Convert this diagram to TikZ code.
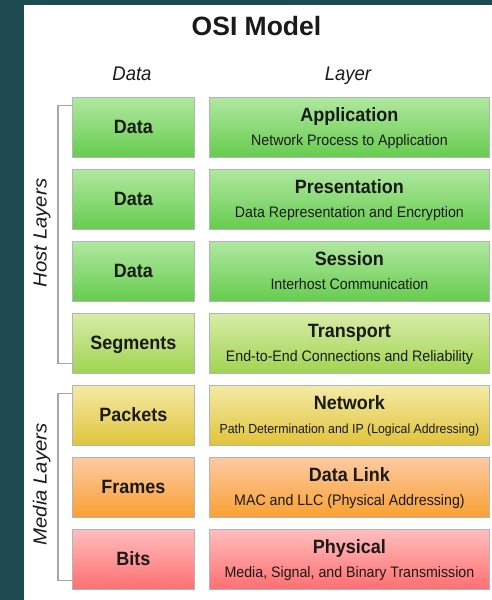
\documentclass[tikz,border=0pt]{standalone}
\usepackage{fontspec}
\usepackage{graphicx}
\setmainfont{Liberation Sans}
\definecolor{bgteal}{HTML}{1E4A52}
\definecolor{celledge}{HTML}{B4B4B4}
\definecolor{brk}{HTML}{A6A6A6}
\definecolor{txt}{HTML}{1A1A1A}
\definecolor{gT}{HTML}{B0E8A0}\definecolor{gB}{HTML}{66CC4E}
\definecolor{tT}{HTML}{D8ECA8}\definecolor{tB}{HTML}{A0D450}
\definecolor{nT}{HTML}{F4EAA6}\definecolor{nB}{HTML}{E0C43A}
\definecolor{oT}{HTML}{FCCAA2}\definecolor{oB}{HTML}{FAA032}
\definecolor{rT}{HTML}{FFBEBE}\definecolor{rB}{HTML}{FF6E70}
\newcommand{\tallt}[1]{\scalebox{1}[1.07]{#1}}
\newcommand{\longt}[1]{\scalebox{1.07}[1]{#1}}
\begin{document}
\begin{tikzpicture}[x=1pt,y=-1pt,
  cellbox/.style={draw=celledge, line width=0.9pt, inner sep=0pt, minimum height=60pt, anchor=north west, text=txt},
  datacell/.style={cellbox, minimum width=122pt, text height=13pt, text depth=0pt, font=\fontsize{18}{20}\selectfont\bfseries},
  layercell/.style={cellbox, minimum width=280pt},
  lname/.style={anchor=base, inner sep=0pt, text=txt, font=\fontsize{18}{20}\selectfont\bfseries},
  ldesc/.style={anchor=base, inner sep=0pt, text=txt, font=\fontsize{14.2}{16}\selectfont},
  head/.style={anchor=base, inner sep=0pt, text=txt, font=\fontsize{18.5}{20}\selectfont\itshape},
  side/.style={anchor=base, inner sep=0pt, rotate=90, text=txt, font=\fontsize{19}{22}\selectfont\itshape},
  bracket/.style={draw=brk, line width=1.1pt},
  grncell/.style={top color=gT, bottom color=gB},
  trncell/.style={top color=tT, bottom color=tB},
  netcell/.style={top color=nT, bottom color=nB},
  lnkcell/.style={top color=oT, bottom color=oB},
  phycell/.style={top color=rT, bottom color=rB}]
\useasboundingbox (0,0) rectangle (492,600);
\fill[bgteal] (0,0) rectangle (492,600);
\fill[white] (24,5) rectangle (492,600);

\node[anchor=base, inner sep=0pt, text=txt, font=\fontsize{26.5}{30}\selectfont\bfseries] (title) at (256.5,35) {OSI Model};
\node[head] (hdata) at (132,80) {\tallt{Data}};
\node[head] (hlayer) at (348,80) {\tallt{Layer}};

% data column
\node[datacell, grncell] (D1) at (72,97)  {\tallt{Data}};
\node[datacell, grncell] (D2) at (72,169) {\tallt{Data}};
\node[datacell, grncell] (D3) at (72,241) {\tallt{Data}};
\node[datacell, trncell] (D4) at (72,313) {\tallt{Segments}};
\node[datacell, netcell] (D5) at (72,385) {\tallt{Packets}};
\node[datacell, lnkcell] (D6) at (72,457) {\tallt{Frames}};
\node[datacell, phycell] (D7) at (72,529) {\tallt{Bits}};

% layer column
\node[layercell, grncell] (L1) at (209,97)  {};
\node[layercell, grncell] (L2) at (209,169) {};
\node[layercell, grncell] (L3) at (209,241) {};
\node[layercell, trncell] (L4) at (209,313) {};
\node[layercell, netcell] (L5) at (209,385) {};
\node[layercell, lnkcell] (L6) at (209,457) {};
\node[layercell, phycell] (L7) at (209,529) {};

\node[lname] (n1) at ([yshift=5.5pt]L1.center) {\tallt{Application}};
\node[ldesc] (s1) at ([yshift=-18pt]L1.center) {\tallt{Network Process to Application}};
\node[lname] (n2) at ([yshift=5.5pt]L2.center) {\tallt{Presentation}};
\node[ldesc] (s2) at ([yshift=-18pt]L2.center) {\tallt{Data Representation and Encryption}};
\node[lname] (n3) at ([yshift=5.5pt]L3.center) {\tallt{Session}};
\node[ldesc] (s3) at ([yshift=-18pt]L3.center) {\tallt{Interhost Communication}};
\node[lname] (n4) at ([yshift=5.5pt]L4.center) {\tallt{Transport}};
\node[ldesc] (s4) at ([yshift=-18pt]L4.center) {\tallt{End-to-End Connections and Reliability}};
\node[lname] (n5) at ([yshift=5.5pt]L5.center) {\tallt{Network}};
\node[ldesc, font=\fontsize{12.3}{14}\selectfont] (s5) at ([yshift=-18pt]L5.center) {\tallt{Path Determination and IP (Logical Addressing)}};
\node[lname] (n6) at ([yshift=5.5pt]L6.center) {\tallt{Data Link}};
\node[ldesc] (s6) at ([yshift=-18pt]L6.center) {\tallt{MAC and LLC (Physical Addressing)}};
\node[lname] (n7) at ([yshift=5.5pt]L7.center) {\tallt{Physical}};
\node[ldesc] (s7) at ([yshift=-18pt]L7.center) {\tallt{Media, Signal, and Binary Transmission}};

% brackets
\draw[bracket] ([yshift=22pt]D1.west) -- ++(-14,0) |- ([yshift=-20pt]D4.west);
\draw[bracket] ([yshift=22pt]D5.west) -- ++(-14,0) |- ([yshift=-21pt]D7.west);

\node[side] (host) at (46.5,233) {\longt{Host Layers}};
\node[side] (media) at (46.5,484.5) {\longt{Media Layers}};
\end{tikzpicture}
\end{document}
